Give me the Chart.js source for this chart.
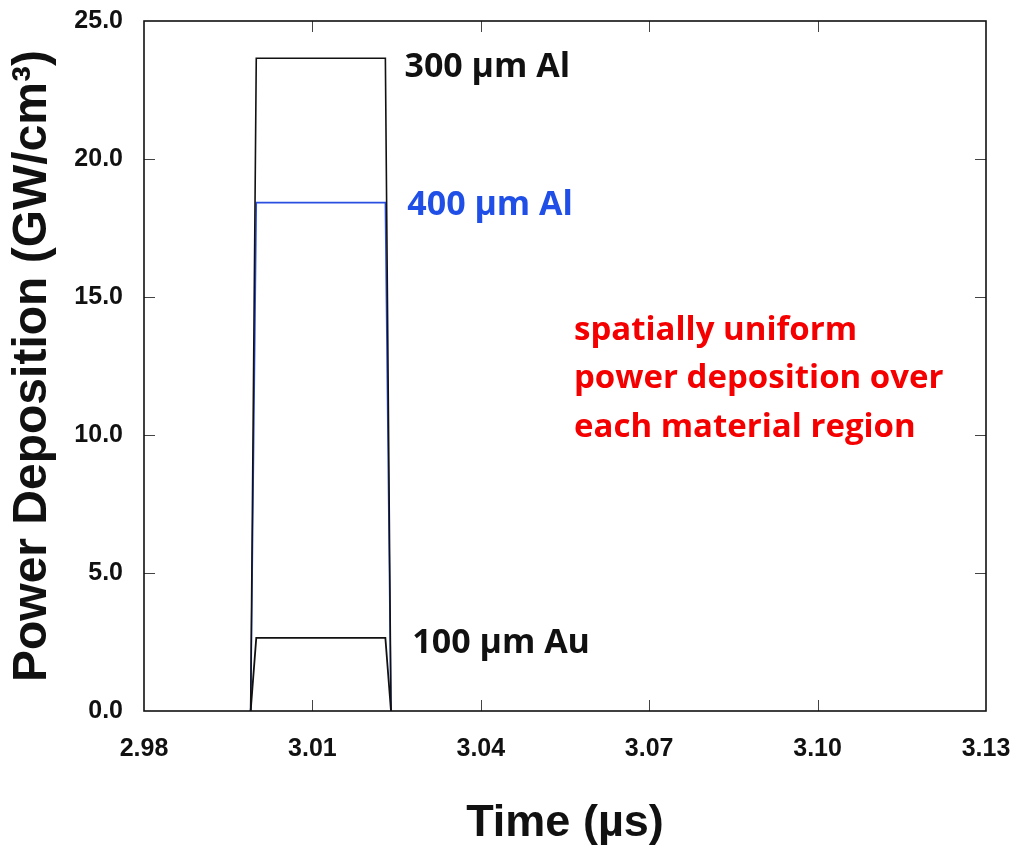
<!DOCTYPE html>
<html>
<head>
<meta charset="utf-8">
<script src="https://cdn.jsdelivr.net/npm/chart.js@4.4.1/dist/chart.umd.min.js"></script>
<style>
  html,body{margin:0;padding:0;background:#fff;}
  #wrap{width:1013px;height:846px;position:relative;}
</style>
</head>
<body>
<div id="wrap"><canvas id="chart-power"></canvas></div>
<script>
// pulse shape: time points (µs) and power deposition (GW/cm3) per material
const times  = [2.999, 3.000, 3.023, 3.024];
const al300  = [0, 23.65, 23.65, 0];
const al400  = [0, 18.42, 18.42, 0];
const au100  = [0, 2.65, 2.65, 0];

const xTicks = [2.98, 3.01, 3.04, 3.07, 3.10, 3.13];
const yTicks = [0, 5, 10, 15, 20, 25];

// text notes, placed in data units (left edge, baseline)
const noteText  = ['300 \u00b5m Al', '400 \u00b5m Al', '100 \u00b5m Au',
                   'spatially uniform', 'power deposition over', 'each material region'];
const noteX     = [3.0264, 3.0269, 3.0278, 3.0566, 3.0566, 3.0566];
const noteY     = [22.97, 17.97, 2.10, 13.44, 11.70, 9.93];
const noteSize  = [34, 34, 34, 33, 33, 33];
const noteColor = ['#111', '#1f4fe6', '#111', '#f50000', '#f50000', '#f50000'];

const pts = arr => times.map((t,i)=>({x:t, y:arr[i]}));
const TICK = 11;

const framePlugin = {
  id:'frame',
  afterDatasetsDraw(chart){
    const {ctx, chartArea:a, scales:{x,y}} = chart;
    ctx.save();
    // inward tick marks on all four sides
    ctx.strokeStyle='#444'; ctx.lineWidth=1;
    ctx.beginPath();
    xTicks.slice(1,-1).forEach(v=>{
      const px = Math.round(x.getPixelForValue(v))+0.5;
      ctx.moveTo(px,a.bottom); ctx.lineTo(px,a.bottom-TICK);
      ctx.moveTo(px,a.top);    ctx.lineTo(px,a.top+TICK);
    });
    yTicks.slice(1,-1).forEach(v=>{
      const py = Math.round(y.getPixelForValue(v))+0.5;
      ctx.moveTo(a.left,py);  ctx.lineTo(a.left+TICK,py);
      ctx.moveTo(a.right,py); ctx.lineTo(a.right-TICK,py);
    });
    ctx.stroke();
    ctx.strokeStyle='#111'; ctx.lineWidth=1.6;
    ctx.strokeRect(a.left,a.top,a.width,a.height);

    // notes
    ctx.textAlign='left'; ctx.textBaseline='alphabetic';
    noteText.forEach((t,i)=>{
      ctx.font = `700 ${noteSize[i]}px "Open Sans"`;
      ctx.fillStyle = noteColor[i];
      ctx.fillText(t, x.getPixelForValue(noteX[i]), y.getPixelForValue(noteY[i]));
    });
    ctx.restore();
  }
};

const tickFont = {family:'"Liberation Sans", Arial, sans-serif', size:25, weight:'bold'};

new Chart(document.getElementById('chart-power'), {
  type:'line',
  data:{
    datasets:[
      {label:'300 µm Al', data:pts(al300), borderColor:'#111', borderWidth:1.6},
      {label:'100 µm Au', data:pts(au100), borderColor:'#111', borderWidth:1.8},
      {label:'400 µm Al', data:pts(al400), borderColor:'#2a4fe0', borderWidth:1.6},
    ]
  },
  options:{
    responsive:true, maintainAspectRatio:false, animation:false,
    layout:{padding:{top:21, right:27, bottom:0, left:0}},
    elements:{point:{radius:0}, line:{tension:0}},
    plugins:{legend:{display:false}, tooltip:{enabled:false}},
    scales:{
      x:{
        type:'linear', min:2.98, max:3.13,
        afterBuildTicks: s => { s.ticks = xTicks.map(v=>({value:v})); },
        afterFit: s => { s.height = 135; s.paddingLeft = 0; s.paddingRight = 0; },
        ticks:{color:'#111', font:tickFont, padding:23, maxRotation:0, callback:v=>v.toFixed(2)},
        grid:{display:false, drawTicks:false}, border:{display:false},
        title:{display:true, text:'Time (\u00b5s)', color:'#111',
               font:{family:'"Liberation Sans", Arial, sans-serif', size:45, weight:'bold', lineHeight:1},
               padding:{top:0, bottom:0}},
      },
      y:{
        type:'linear', min:0, max:25,
        afterBuildTicks: s => { s.ticks = yTicks.map(v=>({value:v})); },
        afterFit: s => { s.width = 144; s.paddingTop = 0; s.paddingBottom = 0; },
        ticks:{color:'#111', font:tickFont, padding:21, callback:v=>v.toFixed(1)},
        grid:{display:false, drawTicks:false}, border:{display:false},
        title:{display:true, text:'Power Deposition (GW/cm\u00b3)', color:'#111',
               font:{family:'"Liberation Sans", Arial, sans-serif', size:48, weight:'bold', lineHeight:1.2},
               padding:{top:4, bottom:0}},
      }
    }
  },
  plugins:[framePlugin]
});
</script>
</body>
</html>
